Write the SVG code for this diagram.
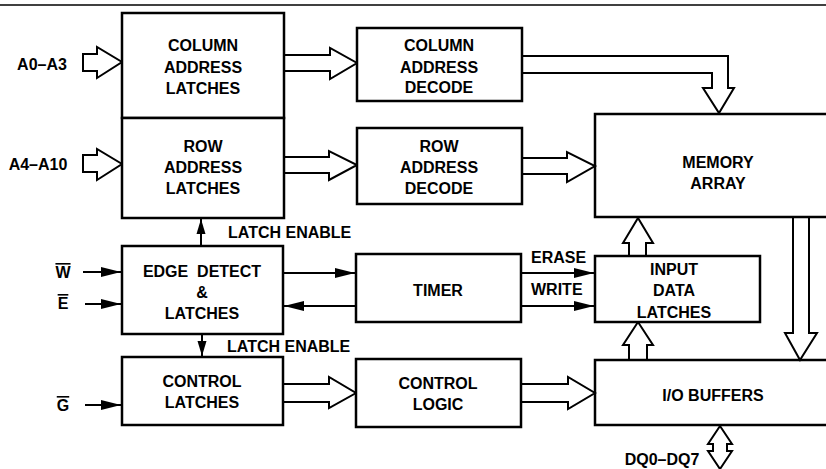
<svg xmlns="http://www.w3.org/2000/svg" width="826" height="469" viewBox="0 0 826 469">
<defs>
<style>
.box{fill:#fff;stroke:#000;stroke-width:2.5}
.open{fill:none;stroke:#000;stroke-width:2.5}
.t{font-family:"Liberation Sans",Arial,Helvetica,sans-serif;font-weight:bold;font-size:16px;fill:#000;text-anchor:middle}
.tl{font-family:"Liberation Sans",Arial,Helvetica,sans-serif;font-weight:bold;font-size:16px;fill:#000;text-anchor:start}
.ov{text-decoration:overline}
.bus{fill:#fff;stroke:#000;stroke-width:2;stroke-linejoin:miter}
.sig{fill:none;stroke:#000;stroke-width:2}
</style>
<marker id="ah" markerUnits="userSpaceOnUse" markerWidth="21" markerHeight="11" refX="20" refY="5.5" orient="auto">
<path d="M0,0.5 L20,5.5 L0,10.5 z" fill="#000"/>
</marker>
<marker id="ahs" markerUnits="userSpaceOnUse" markerWidth="16" markerHeight="10" refX="15" refY="5" orient="auto">
<path d="M0,0.5 L15,5 L0,9.5 z" fill="#000"/>
</marker>
</defs>
<rect x="0" y="0" width="826" height="469" fill="#fff"/>
<line x1="0" y1="5" x2="826" y2="5" stroke="#000" stroke-width="1.5"/>

<g id="connectors">
<polygon class="bus" points="83,54 97,54 97,47 122,62 97,78 97,71 83,71"/>
<polygon class="bus" points="83,155 97,155 97,149 122,164 97,180 97,172 83,172"/>
<polygon class="bus" points="284,55 330,55 330,48 357,63 330,79 330,71 284,71"/>
<polygon class="bus" points="284,157 329,157 329,151 357,165 329,180 329,173 284,173"/>
<polygon class="bus" points="522,56 728,56 728,88 734,88 719,113 703,88 712,88 712,73 522,73"/>
<polygon class="bus" points="522,158 567,158 567,152 595,166 567,182 567,174 522,174"/>
<polygon class="bus" points="283,384 329,384 329,377 356,393 329,408 329,402 283,402"/>
<polygon class="bus" points="521,384 568,384 568,377 595,393 568,409 568,402 521,402"/>
<polygon class="bus" points="629,256 629,243 623,243 638,218 653,243 646,243 646,256"/>
<polygon class="bus" points="629,360 629,345 623,345 638,322 653,345 647,345 647,360"/>
<polygon class="bus" points="793,217 793,333 785,333 800,360 817,333 809,333 809,217"/>
<polygon class="bus" points="720,426 732,444 727,444 727,451 732,451 720,469 708,451 713,451 713,444 708,444"/>
<line class="sig" x1="201" y1="246" x2="201" y2="219" marker-end="url(#ahs)"/>
<line class="sig" x1="202" y1="334" x2="202" y2="356" marker-end="url(#ahs)"/>
<line class="sig" x1="83" y1="272" x2="121" y2="272" marker-end="url(#ah)"/>
<line class="sig" x1="85" y1="304" x2="121" y2="304" marker-end="url(#ah)"/>
<line class="sig" x1="85" y1="405" x2="121" y2="405" marker-end="url(#ah)"/>
<line class="sig" x1="283" y1="273" x2="355" y2="273" marker-end="url(#ah)"/>
<line class="sig" x1="356" y1="306" x2="284" y2="306" marker-end="url(#ah)"/>
<line class="sig" x1="521" y1="273" x2="594" y2="273" marker-end="url(#ah)"/>
<line class="sig" x1="521" y1="306" x2="594" y2="306" marker-end="url(#ah)"/>
</g>

<g id="col-addr-latches">
<rect class="box" x="122" y="13" width="162" height="105"/>
<text class="t" x="203" y="51">COLUMN</text>
<text class="t" x="203" y="72.5">ADDRESS</text>
<text class="t" x="203" y="94">LATCHES</text>
</g>
<g id="row-addr-latches">
<rect class="box" x="122" y="118" width="162" height="100"/>
<text class="t" x="203" y="152">ROW</text>
<text class="t" x="203" y="173">ADDRESS</text>
<text class="t" x="203" y="194">LATCHES</text>
</g>
<g id="col-addr-decode">
<rect class="box" x="357" y="28" width="165" height="73"/>
<text class="t" x="439" y="51">COLUMN</text>
<text class="t" x="439" y="72.5">ADDRESS</text>
<text class="t" x="439" y="93">DECODE</text>
</g>
<g id="row-addr-decode">
<rect class="box" x="357" y="128" width="165" height="76"/>
<text class="t" x="439" y="152">ROW</text>
<text class="t" x="439" y="173">ADDRESS</text>
<text class="t" x="439" y="194">DECODE</text>
</g>
<g id="memory-array">
<path class="open" d="M826,114 H595 V217 H826"/>
<text class="t" x="718" y="168">MEMORY</text>
<text class="t" x="718" y="189">ARRAY</text>
</g>
<g id="edge-detect">
<rect class="box" x="122" y="246" width="161" height="88"/>
<text class="t" x="202" y="277" xml:space="preserve">EDGE  DETECT</text>
<text class="t" x="202" y="298">&amp;</text>
<text class="t" x="202" y="319">LATCHES</text>
</g>
<g id="timer">
<rect class="box" x="356" y="254" width="165" height="68"/>
<text class="t" x="438" y="296">TIMER</text>
</g>
<g id="input-data-latches">
<rect class="box" x="595" y="256" width="165" height="66"/>
<text class="t" x="674" y="275">INPUT</text>
<text class="t" x="674" y="296">DATA</text>
<text class="t" x="674" y="318">LATCHES</text>
</g>
<g id="control-latches">
<rect class="box" x="122" y="357" width="161" height="68"/>
<text class="t" x="202" y="387">CONTROL</text>
<text class="t" x="202" y="408">LATCHES</text>
</g>
<g id="control-logic">
<rect class="box" x="356" y="359" width="165" height="68"/>
<text class="t" x="438" y="389">CONTROL</text>
<text class="t" x="438" y="410">LOGIC</text>
</g>
<g id="io-buffers">
<path class="open" d="M826,360 H595 V425 H826"/>
<text class="t" x="713" y="401">I/O BUFFERS</text>
</g>

<g id="labels">
<text class="t" x="42" y="70">A0–A3</text>
<text class="t" x="38" y="170">A4–A10</text>
<text class="t ov" x="63" y="278">W</text>
<text class="t ov" x="63" y="309">E</text>
<text class="t ov" x="63" y="411">G</text>
<text class="tl" x="228" y="238">LATCH ENABLE</text>
<text class="tl" x="227" y="352">LATCH ENABLE</text>
<text class="tl" x="531" y="263">ERASE</text>
<text class="tl" x="531" y="295">WRITE</text>
<text class="t" x="662" y="465">DQ0–DQ7</text>
</g>
</svg>
